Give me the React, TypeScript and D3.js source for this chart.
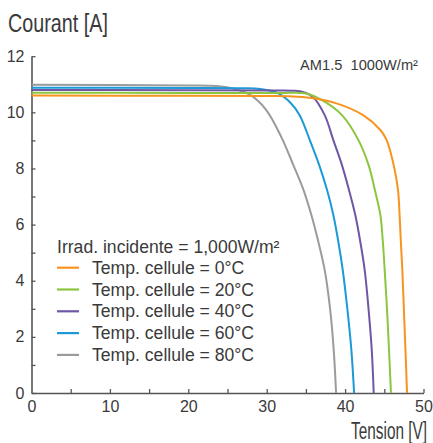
import React, { Component } from 'react';
import * as d3 from "d3";

// I-V curves, one pair of arrays per cell temperature
const volt0 = [0, 20, 30, 33, 35.5, 38.9, 42.3, 44.5, 45.3, 46.2, 46.75, 46.95, 47.1, 47.3, 47.5, 47.7, 47.9];
const amp0 = [10.6, 10.59, 10.58, 10.57, 10.52, 10.32, 9.9, 9.37, 9.01, 8.12, 7.23, 6.34, 5.45, 4.38, 2.96, 1.53, 0];

const volt20 = [0, 20, 32, 35, 37.0, 39.6, 41.7, 43.0, 43.8, 44.5, 44.8, 45.05, 45.35, 45.6, 45.85];
const amp20 = [10.7, 10.69, 10.69, 10.67, 10.44, 9.9, 9.01, 8.12, 7.23, 6.34, 5.45, 4.38, 2.96, 1.53, 0];

const volt40 = [0, 20, 31, 33.5, 34.7, 35.9, 37.4, 38.5, 39.6, 40.5, 41.3, 41.9, 42.5, 43.0, 43.4, 43.65];
const amp40 = [10.8, 10.79, 10.78, 10.77, 10.72, 10.55, 9.9, 9.01, 8.12, 7.23, 6.34, 5.45, 4.38, 2.96, 1.53, 0];

const volt60 = [0, 20, 27, 29.2, 31.3, 33.0, 34.2, 35.5, 36.7, 37.7, 38.5, 39.1, 39.7, 40.3, 40.8, 41.15];
const amp60 = [10.88, 10.87, 10.86, 10.83, 10.7, 10.35, 9.9, 9.01, 8.12, 7.23, 6.34, 5.45, 4.38, 2.96, 1.53, 0];

const volt80 = [0, 20, 23, 24.7, 26.3, 27.9, 29.9, 31.9, 33.4, 34.7, 35.7, 36.4, 37.4, 38.1, 38.55, 38.85];
const amp80 = [10.98, 10.96, 10.95, 10.9, 10.8, 10.62, 10.1, 9.1, 8.12, 7.23, 6.34, 5.6, 4.38, 2.96, 1.53, 0];

const legendLabels = ["Temp. cellule = 0°C", "Temp. cellule = 20°C", "Temp. cellule = 40°C", "Temp. cellule = 60°C", "Temp. cellule = 80°C"];
const seriesColors = ["#f7941d", "#8cc63f", "#6e57a5", "#1b9ad7", "#9b9b9b"];
const seriesVolts = [volt0, volt20, volt40, volt60, volt80];
const seriesAmps = [amp0, amp20, amp40, amp60, amp80];

const yTicks = d3.range(0, 13, 1);
const xTicks = d3.range(0, 51, 5);

const narrow = "'Liberation Sans Narrow', 'Arial Narrow', 'Liberation Sans', sans-serif";
const regular = "'Liberation Sans', Arial, sans-serif";
const textColor = "#3a3a3a";

// squeeze a text horizontally to a given width (condensed font look)
function squeeze(sel, x, y, w) {
  const natural = sel.node().getComputedTextLength();
  const sx = natural > 0 ? w / natural : 1;
  sel.attr("transform", `translate(${x}, ${y}) scale(${sx}, 1)`);
}

class App extends Component {
  componentDidMount() {
    const width = 433;
    const height = 443;

    const svg = d3.select(".iv_svg").attr("width", width).attr("height", height);

    const xScale = d3.scaleLinear().domain([0, 50]).range([31.5, 423.5]);
    const yScale = d3.scaleLinear().domain([0, 12]).range([393, 56.2]);

    // axes, ticks pointing inward
    const xAxis = d3.axisBottom(xScale).tickValues(xTicks).tickSizeInner(-4).tickSizeOuter(0).tickPadding(8)
      .tickFormat(d => (d % 10 === 0 ? String(d) : ""));
    const yAxis = d3.axisLeft(yScale).tickValues(yTicks).tickSizeInner(-4).tickSizeOuter(0).tickPadding(7)
      .tickFormat(d => (d % 2 === 0 ? String(d) : ""));

    const gx = svg.append("g").attr("transform", `translate(0, ${yScale(0)})`).call(xAxis);
    const gy = svg.append("g").attr("transform", `translate(${xScale(0)}, 0)`).call(yAxis);

    [gx, gy].forEach(g => {
      g.select(".domain").attr("stroke", "#555").attr("stroke-width", 1.6);
      g.selectAll(".tick line").attr("stroke", "#555").attr("stroke-width", 1.3);
      g.selectAll(".tick text").attr("fill", textColor).attr("font-size", 16).attr("font-family", narrow);
    });
    gx.selectAll(".tick").filter(d => d === 0).select("line").remove();

    // curves, hottest first so the orange ends on top
    const line = d3.line().x(d => xScale(d[0])).y(d => yScale(d[1])).curve(d3.curveCatmullRom.alpha(0.5));
    for (let i = seriesVolts.length - 1; i >= 0; i--) {
      const pts = seriesVolts[i].map((v, j) => [v, seriesAmps[i][j]]);
      svg.append("path").datum(pts)
        .attr("d", line)
        .attr("fill", "none")
        .attr("stroke", seriesColors[i])
        .attr("stroke-width", 2);
    }

    // legend
    const legend = svg.append("g").attr("transform", "translate(57, 0)");
    legend.append("text")
      .attr("x", 0).attr("y", 253)
      .attr("font-size", 17.6).attr("font-family", regular).attr("fill", textColor)
      .text("Irrad. incidente = 1,000W/m²");

    legendLabels.forEach((lbl, i) => {
      const cy = 267.7 + i * 21.8;
      legend.append("line")
        .attr("x1", 0).attr("x2", 22).attr("y1", cy).attr("y2", cy)
        .attr("stroke", seriesColors[i]).attr("stroke-width", 2.2);
      legend.append("text")
        .attr("x", 35).attr("y", cy + 6)
        .attr("font-size", 17.6).attr("font-family", regular).attr("fill", textColor)
        .text(lbl);
    });

    // titles
    const yTitle = svg.append("text")
      .attr("font-size", 25).attr("font-family", narrow).attr("fill", textColor)
      .text("Courant [A]");
    squeeze(yTitle, 8, 32, 100);

    const xTitle = svg.append("text")
      .attr("text-anchor", "end")
      .attr("font-size", 24).attr("font-family", narrow).attr("fill", textColor)
      .text("Tension [V]");
    squeeze(xTitle, 427, 439, 76);

    const amText = svg.append("text")
      .attr("text-anchor", "end")
      .attr("font-size", 14.5).attr("font-family", regular).attr("fill", textColor)
      .text("AM1.5\u00a0\u00a01000W/m²");
    squeeze(amText, 418, 70, 118);
  }

  render() {
    return (
      <svg className="iv_svg" style={{ position: "absolute", left: 0, top: 0, background: "#fff" }}></svg>
    );
  }
}

export default App;
